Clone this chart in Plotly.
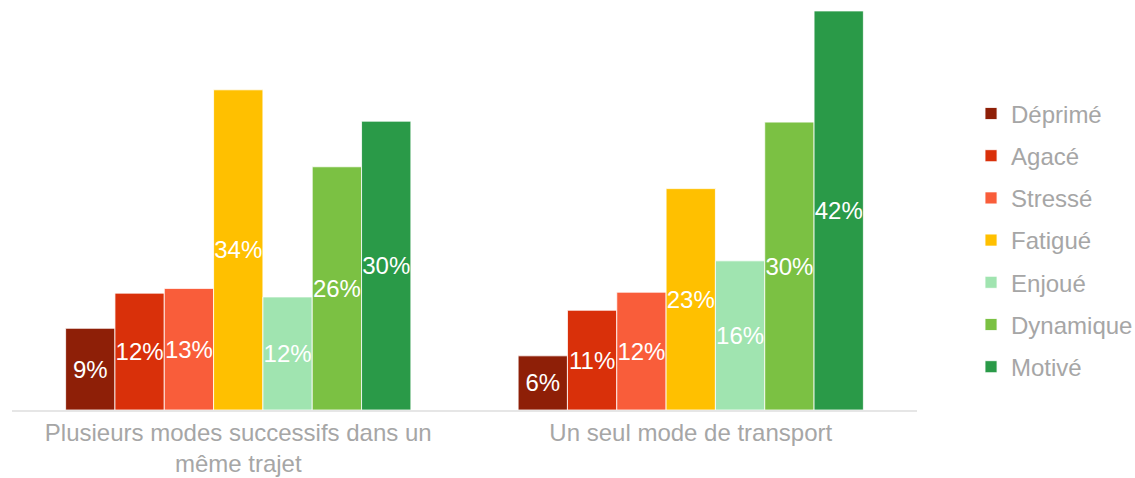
import plotly.graph_objects as go

categories = ["Plusieurs modes successifs dans un<br>même trajet", "Un seul mode de transport"]
series = ["Déprimé", "Agacé", "Stressé", "Fatigué", "Enjoué", "Dynamique", "Motivé"]
values = {
    "Déprimé": [8.6, 5.7],
    "Agacé": [12.3, 10.5],
    "Stressé": [12.8, 12.4],
    "Fatigué": [33.7, 23.3],
    "Enjoué": [11.9, 15.7],
    "Dynamique": [25.6, 30.3],
    "Motivé": [30.4, 42.0],
}
labels = {
    "Déprimé": ["9%", "6%"],
    "Agacé": ["12%", "11%"],
    "Stressé": ["13%", "12%"],
    "Fatigué": ["34%", "23%"],
    "Enjoué": ["12%", "16%"],
    "Dynamique": ["26%", "30%"],
    "Motivé": ["30%", "42%"],
}
colors = ["#8E1F07", "#D9300A", "#F95D3A", "#FFC000", "#A0E4B0", "#7BC143", "#2A9A48"]

FONT = "Liberation Sans, Arial"
GREY = "#A6A6A6"

fig = go.Figure()
for name, col in zip(series, colors):
    fig.add_trace(go.Bar(
        name=name, x=categories, y=values[name], text=labels[name],
        textposition="inside", insidetextanchor="middle", constraintext="none",
        textangle=0,
        textfont=dict(family=FONT, size=24, color="white"),
        marker=dict(color=col, line=dict(color="white", width=0.8)),
        legendgroup=name, hoverinfo="skip",
    ))

fig.update_layout(
    barmode="group", bargap=0.237, bargroupgap=0,
    width=1135, height=478,
    margin=dict(l=12, r=218, t=10, b=68, autoexpand=False),
    paper_bgcolor="white", plot_bgcolor="white",
    font=dict(family=FONT, color=GREY),
    showlegend=True,
    legend=dict(x=1.0597, xanchor="left", y=0.424, yanchor="middle",
                font=dict(size=24, color=GREY), tracegroupgap=8,
                itemclick=False),
    xaxis=dict(showline=True, linecolor="#E6E6E6", linewidth=1.5, ticks="",
               tickfont=dict(size=24, color=GREY), showgrid=False,
               automargin=False, ticklabelstandoff=0),
    yaxis=dict(range=[0, 42.1], visible=False, showgrid=False, zeroline=False,
               automargin=False),
)
fig.write_html("out.html", config={"displayModeBar": False})

with open("out.html", "r", encoding="utf-8") as f:
    html = f.read()
html = html.replace("<body>", '<body style="margin:0;overflow:hidden">', 1)
with open("out.html", "w", encoding="utf-8") as f:
    f.write(html)
